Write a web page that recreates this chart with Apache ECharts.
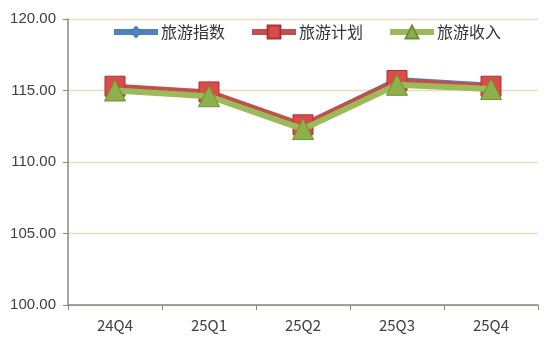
<!DOCTYPE html>
<html><head><meta charset="utf-8">
<script src="https://cdn.jsdelivr.net/npm/echarts@6/dist/echarts.min.js"></script>
<style>html,body{margin:0;padding:0;background:#fff}#c{width:560px;height:361px}</style>
</head><body><div id="c"></div>
<script>
var categories = ['24Q4','25Q1','25Q2','25Q3','25Q4'];
var indexVals = [115.2, 114.9, 112.6, 115.8, 115.4];
var planVals = [115.3, 114.9, 112.6, 115.7, 115.3];
var incomeVals = [115.0, 114.6, 112.3, 115.4, 115.1];
var yTicks = [100, 105, 110, 115, 120];

var chart = echarts.init(document.getElementById('c'));
chart.setOption({
  animation: false,
  grid: {left: 68, right: 22, top: 19, bottom: 56},
  legend: {
    top: 19, left: 106, itemWidth: 44, itemHeight: 16, itemGap: 24,
    textStyle: {fontSize: 16, color: '#333', fontFamily: 'Noto Sans CJK SC', padding: [0,0,0,-2]},
    data: [
      {name: '旅游指数', lineStyle: {width: 6}},
      {name: '旅游计划', lineStyle: {width: 6}},
      {name: '旅游收入', lineStyle: {width: 6}}
    ]
  },
  xAxis: {
    type: 'category', data: categories, boundaryGap: true,
    axisLine: {lineStyle: {color: '#888', width: 1.5}},
    axisTick: {show: true, alignWithLabel: false, lineStyle: {color: '#888'}},
    axisLabel: {fontSize: 15, color: '#404040', margin: 13, fontFamily: 'Noto Sans CJK SC'}
  },
  yAxis: {
    type: 'value', min: 100, max: 120, interval: 5,
    axisLine: {show: true, lineStyle: {color: '#888', width: 1.5}},
    axisTick: {show: true, inside: false, length: 5, lineStyle: {color: '#888'}},
    axisLabel: {fontSize: 15, color: '#404040', margin: 12, fontFamily: 'Liberation Sans',
      formatter: function(v){ return yTicks.indexOf(v) >= 0 ? v.toFixed(2) : ''; }},
    splitLine: {lineStyle: {color: '#ebdcb8', width: 1.3}}
  },
  series: [
    {name: '旅游指数', type: 'line', data: indexVals, symbol: 'diamond', symbolSize: 9,
     lineStyle: {color: '#4f81bd', width: 4}, itemStyle: {color: '#4f81bd'}, z: 2},
    {name: '旅游计划', type: 'line', data: planVals, symbol: 'rect', symbolSize: 20,
     lineStyle: {color: '#c0504d', width: 5}, itemStyle: {color: '#d94c48', borderColor: '#a33', borderWidth: 1}, z: 3},
    {name: '旅游收入', type: 'line', data: incomeVals, symbol: 'triangle', symbolSize: 21,
     lineStyle: {color: '#9bbb59', width: 6}, itemStyle: {color: '#8db04a', borderColor: '#6f8f35', borderWidth: 1}, z: 4}
  ]
});
</script></body></html>
